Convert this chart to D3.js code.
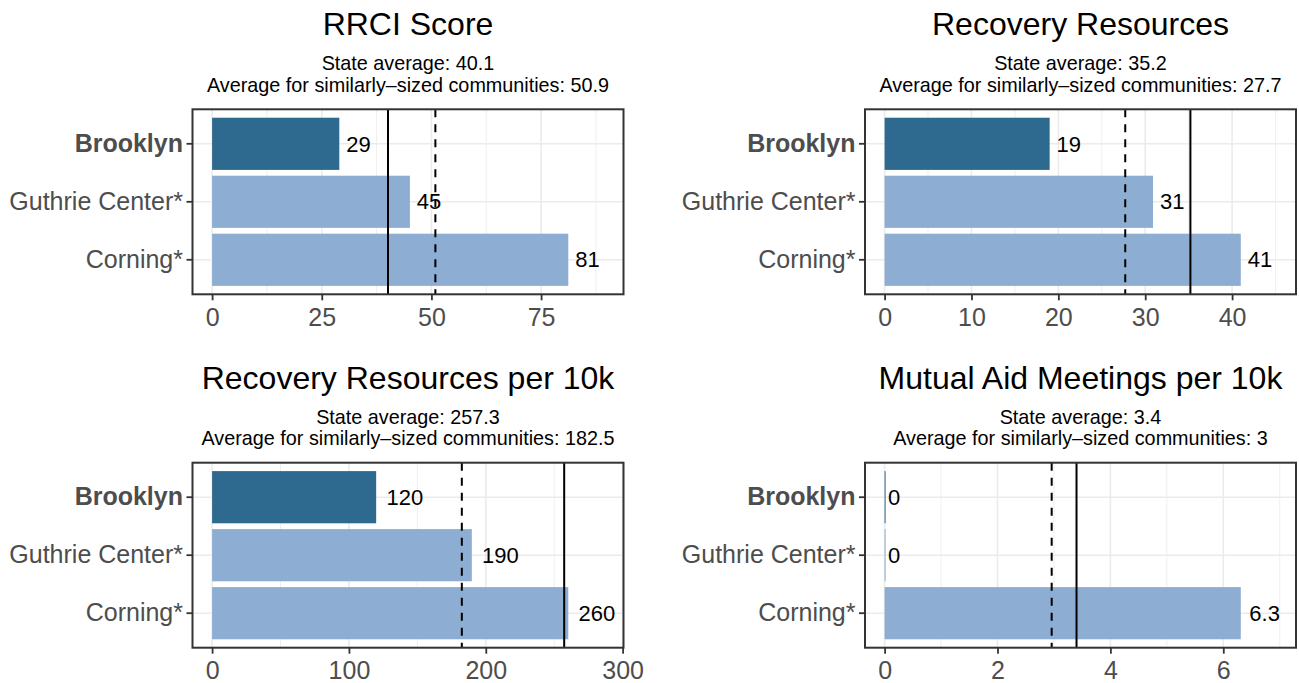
<!DOCTYPE html>
<html>
<head>
<meta charset="utf-8">
<script src="https://cdn.jsdelivr.net/npm/d3@7"></script>
<style>
  html, body { margin: 0; padding: 0; background: #ffffff; }
  svg { display: block; font-family: "Liberation Sans", Arial, Helvetica, sans-serif; }
</style>
</head>
<body>
<svg id="chart" width="1299" height="683"></svg>
<script>
// ---------------- data ----------------
const categories = ["Brooklyn", "Guthrie Center*", "Corning*"];
const highlight = "Brooklyn";
const panelTitles = ["RRCI Score", "Recovery Resources", "Recovery Resources per 10k", "Mutual Aid Meetings per 10k"];
const rrciScore = [29, 45.1, 81.2];
const recoveryResources = [19, 30.9, 41];
const resourcesPer10k = [119.9, 189.8, 260.3];
const meetingsPer10k = [0, 0, 6.31];
const stateAverages = [40.1, 35.2, 257.3, 3.4];
const similarAverages = [50.9, 27.7, 182.5, 2.96];
const tickLabels1 = [0, 25, 50, 75];
const tickLabels2 = [0, 10, 20, 30, 40];
const tickLabels3 = [0, 100, 200, 300];
const tickLabels4 = [0, 2, 4, 6];

const seriesList = [rrciScore, recoveryResources, resourcesPer10k, meetingsPer10k];
const tickList = [tickLabels1, tickLabels2, tickLabels3, tickLabels4];

// ---------------- layout / style ----------------
const colLeft = [192.5, 865];
const rowTop = [109.3, 462.7];
const panelW = 431;
const panelH = 185;
const darkBlue = "#2E6A8F";
const lightBlue = "#8DAED2";
const gridCol = "#EBEBEB";
const borderCol = "#333333";
const axisTextCol = "#4D4D4D";

const fmtAvg = v => String(+v.toFixed(1));
const fmtVal = v => String(+v.toPrecision(2));

const svg = d3.select("#chart");

panelTitles.forEach((title, i) => {
  const values = seriesList[i];
  const ticks = tickList[i];
  const x0 = colLeft[i % 2];
  const y0 = rowTop[Math.floor(i / 2)];
  const g = svg.append("g").attr("transform", `translate(${x0},${y0})`);

  const dmax = d3.max(values) * 1.1;
  const pad = dmax * 0.05;
  const x = d3.scaleLinear().domain([-pad, dmax + pad]).range([0, panelW]);
  const y = d3.scaleBand().domain(categories).range([0, panelH])
    .paddingInner(0.1).paddingOuter(0.145);

  // minor grid
  const step = ticks[1] - ticks[0];
  const minor = d3.range(ticks[0] - step / 2, dmax + pad, step)
    .filter(v => v > -pad && v < dmax + pad);
  g.selectAll(".minor").data(minor).join("line")
    .attr("x1", d => x(d)).attr("x2", d => x(d))
    .attr("y1", 0).attr("y2", panelH)
    .attr("stroke", gridCol).attr("stroke-width", 0.8);
  // major grid
  g.selectAll(".majorx").data(ticks.filter(t => t <= dmax + pad)).join("line")
    .attr("x1", d => x(d)).attr("x2", d => x(d))
    .attr("y1", 0).attr("y2", panelH)
    .attr("stroke", gridCol).attr("stroke-width", 1.6);
  g.selectAll(".majory").data(categories).join("line")
    .attr("x1", 0).attr("x2", panelW)
    .attr("y1", d => y(d) + y.bandwidth() / 2).attr("y2", d => y(d) + y.bandwidth() / 2)
    .attr("stroke", gridCol).attr("stroke-width", 1.6);

  // bars
  g.selectAll(".bar").data(values).join("rect")
    .attr("x", x(0))
    .attr("y", (d, j) => y(categories[j]))
    .attr("width", d => Math.max(x(d) - x(0), 1))
    .attr("height", y.bandwidth())
    .attr("fill", (d, j) => categories[j] === highlight ? darkBlue : lightBlue);

  // reference lines
  g.append("line")
    .attr("x1", x(stateAverages[i])).attr("x2", x(stateAverages[i]))
    .attr("y1", 0).attr("y2", panelH)
    .attr("stroke", "#000").attr("stroke-width", 2);
  g.append("line")
    .attr("x1", x(similarAverages[i])).attr("x2", x(similarAverages[i]))
    .attr("y1", 0).attr("y2", panelH)
    .attr("stroke", "#000").attr("stroke-width", 2)
    .attr("stroke-dasharray", "8,7");

  // value labels
  g.selectAll(".val").data(values).join("text")
    .attr("y", (d, j) => y(categories[j]) + y.bandwidth() / 2)
    .attr("dy", "0.35em")
    .attr("font-size", 22)
    .attr("fill", "#000")
    .text(d => fmtVal(d))
    .attr("x", function (d) { return x(d) + 0.28 * this.getComputedTextLength(); });

  // panel border
  g.append("rect").attr("x", 0).attr("y", 0).attr("width", panelW).attr("height", panelH)
    .attr("fill", "none").attr("stroke", borderCol).attr("stroke-width", 2);

  // axes
  const xAxis = g.append("g").attr("transform", `translate(0,${panelH})`)
    .call(d3.axisBottom(x).tickValues(ticks).tickSize(6).tickPadding(8).tickFormat(d3.format("d")));
  xAxis.select(".domain").remove();
  xAxis.selectAll("line").attr("stroke", borderCol).attr("stroke-width", 1.8);
  xAxis.selectAll("text").attr("font-size", 25).attr("fill", axisTextCol)
    .attr("font-family", "Liberation Sans, Arial, sans-serif");

  const yAxis = g.append("g")
    .call(d3.axisLeft(y).tickSize(6).tickPadding(3.5));
  yAxis.select(".domain").remove();
  yAxis.selectAll("line").attr("stroke", borderCol).attr("stroke-width", 1.8);
  yAxis.selectAll("text").attr("font-size", 25).attr("fill", axisTextCol)
    .attr("font-family", "Liberation Sans, Arial, sans-serif")
    .attr("font-weight", d => d === highlight ? "bold" : "normal");

  // titles
  const cx = panelW / 2;
  g.append("text").attr("x", cx).attr("y", -74).attr("text-anchor", "middle")
    .attr("font-size", 32).attr("fill", "#000").text(title);
  g.append("text").attr("x", cx).attr("y", -39).attr("text-anchor", "middle")
    .attr("font-size", 19.8).attr("fill", "#000").text("State average: " + fmtAvg(stateAverages[i]));
  g.append("text").attr("x", cx).attr("y", -17.6).attr("text-anchor", "middle")
    .attr("font-size", 19.8).attr("fill", "#000")
    .text("Average for similarly\u2013sized communities: " + fmtAvg(similarAverages[i]));
});
</script>
</body>
</html>
